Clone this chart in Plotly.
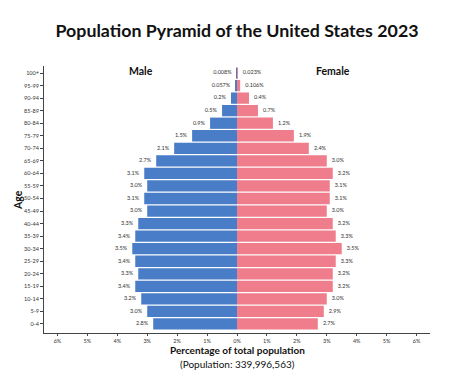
import plotly.graph_objects as go

ages = ["0-4","5-9","10-14","15-19","20-24","25-29","30-34","35-39","40-44","45-49",
        "50-54","55-59","60-64","65-69","70-74","75-79","80-84","85-89","90-94","95-99","100+"]
male = [2.8,3.0,3.2,3.4,3.3,3.4,3.5,3.4,3.3,3.0,3.1,3.0,3.1,2.7,2.1,1.5,0.9,0.5,0.2,0.057,0.008]
female = [2.7,2.9,3.0,3.2,3.2,3.3,3.5,3.3,3.2,3.0,3.1,3.1,3.2,3.0,2.4,1.9,1.2,0.7,0.4,0.106,0.023]
male_labels = ["2.8%","3.0%","3.2%","3.4%","3.3%","3.4%","3.5%","3.4%","3.3%","3.0%","3.1%","3.0%",
               "3.1%","2.7%","2.1%","1.5%","0.9%","0.5%","0.2%","0.057%","0.008%"]
female_labels = ["2.7%","2.9%","3.0%","3.2%","3.2%","3.3%","3.5%","3.3%","3.2%","3.0%","3.1%","3.1%",
                 "3.2%","3.0%","2.4%","1.9%","1.2%","0.7%","0.4%","0.106%","0.023%"]
tick_vals = [-6,-5,-4,-3,-2,-1,0,1,2,3,4,5,6]
tick_text = ["6%","5%","4%","3%","2%","1%","0%","1%","2%","3%","4%","5%","6%"]

FONT = "Lato"
BLUE = "#4a7dc8"
PINK = "#ef7d8b"

# page body has an 8px default margin; compensate
OFF = 8
W, H = 474 - OFF, 377 - OFF
L, R, T, B = 44 - OFF, 474 - 430, 66 - OFF, 377 - 333

fig = go.Figure()
fig.add_trace(go.Bar(y=ages, x=[-v for v in male], orientation="h", marker=dict(color=BLUE, line=dict(width=0)),
                     name="Male", hoverinfo="skip"))
fig.add_trace(go.Bar(y=ages, x=female, orientation="h", marker=dict(color=PINK, line=dict(width=0)),
                     name="Female", hoverinfo="skip"))
fig.add_trace(go.Scatter(y=ages, x=[-v - 0.17 for v in male], mode="text", text=male_labels,
                         textposition="middle left", textfont=dict(size=5.5, color="#333", family=FONT),
                         hoverinfo="skip", cliponaxis=False))
fig.add_trace(go.Scatter(y=ages, x=[v + 0.17 for v in female], mode="text", text=female_labels,
                         textposition="middle right", textfont=dict(size=5.5, color="#333", family=FONT),
                         hoverinfo="skip", cliponaxis=False))

def px(x, y):
    # reference pixel (from top-left) -> paper coords
    pw, ph = W - L - R, H - T - B
    return (x - OFF - L) / pw, 1 - (y - OFF - T) / ph

annos = [
    ("<b>Male</b>", 141, 71, 10.5, 0),
    ("<b>Female</b>", 333, 71, 10.5, 0),
    ("<b>Age</b>", 18, 200, 10.5, -90),
    ("<b>Percentage of total population</b>", 237, 350, 10, 0),
    ("(Population: 339,996,563)", 237, 364, 10, 0),
]
annotations = []
for text, x, y, size, ang in annos:
    ax, ay = px(x, y)
    annotations.append(dict(text=text, x=ax, y=ay, xref="paper", yref="paper", showarrow=False,
                            textangle=ang, xanchor="center", yanchor="middle",
                            font=dict(size=size, color="#111", family=FONT)))

fig.update_layout(
    width=W, height=H,
    margin=dict(l=L, r=R, t=T, b=B),
    paper_bgcolor="white", plot_bgcolor="white",
    barmode="relative", bargap=0.1,
    showlegend=False,
    font=dict(family=FONT, color="#222"),
    title=dict(text="<b>Population Pyramid of the United States 2023</b>", x=(237 - OFF) / W, xanchor="center",
               y=1 - (31 - OFF) / H, yanchor="middle", font=dict(size=17.8, color="#111", family=FONT)),
    xaxis=dict(range=[-6.45, 6.45], tickvals=tick_vals, ticktext=tick_text, showgrid=False, zeroline=False,
               showline=True, linecolor="#444", linewidth=1, ticks="outside", ticklen=2, tickcolor="#444",
               tickfont=dict(size=5.5, color="#333"), fixedrange=True),
    yaxis=dict(range=[-0.72, 20.56], showgrid=False, zeroline=False, showline=True, linecolor="#444",
               linewidth=1, ticks="outside", ticklen=3, tickcolor="#444", tickfont=dict(size=5.5, color="#333"),
               fixedrange=True),
    annotations=annotations,
)

fig.write_html("out.html")
